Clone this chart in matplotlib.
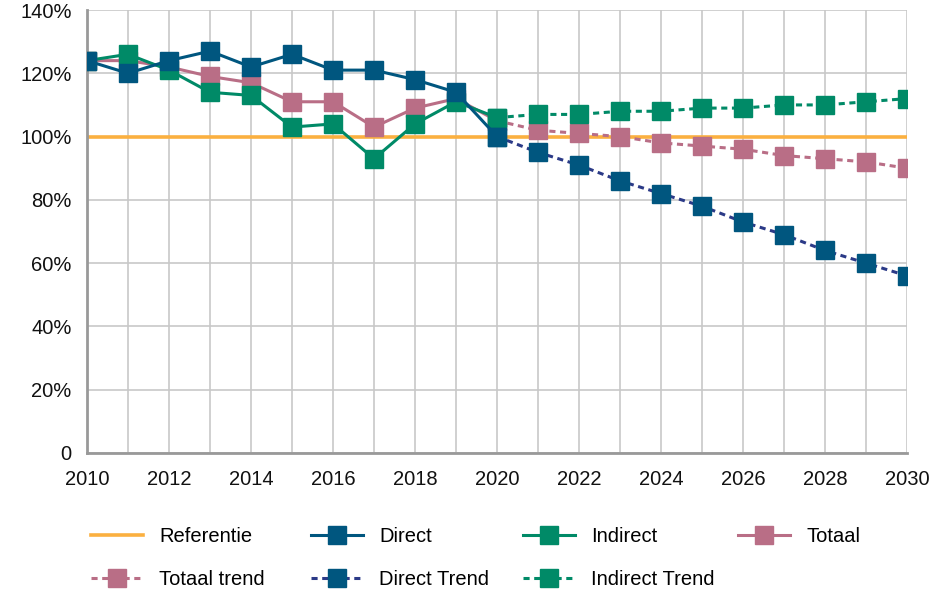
import matplotlib
matplotlib.use("Agg")
import matplotlib.pyplot as plt

plt.rcParams["font.family"] = ["Liberation Sans", "DejaVu Sans"]

years_hist = list(range(2010, 2021))
years_trend = list(range(2020, 2031))

direct = [124, 120, 124, 127, 122, 126, 121, 121, 118, 114, 100]
indirect = [124, 126, 121, 114, 113, 103, 104, 93, 104, 111, 106]
totaal = [124, 124, 122, 119, 117, 111, 111, 103, 109, 112, 105]

direct_trend = [100, 95, 91, 86, 82, 78, 73, 69, 64, 60, 56]
indirect_trend = [106, 107, 107, 108, 108, 109, 109, 110, 110, 111, 112]
totaal_trend = [105, 102, 101, 100, 98, 97, 96, 94, 93, 92, 90]

referentie = 100

C_REF = "#fbb040"
C_DIR = "#00567f"
C_DIR_TREND = "#2b3a87"
C_IND = "#008a67"
C_TOT = "#b96e86"

W, H = 951, 590
fig = plt.figure(figsize=(W / 100, H / 100), dpi=100)
ax = fig.add_axes([87 / W, 1 - 453 / H, 820 / W, 443 / H])

ms = 13.5
lw = 2.2
dash = (0, (2, 1.5))

ref, = ax.plot([2010, 2030], [referentie, referentie], color=C_REF, lw=2.6,
               label="Referentie", zorder=2)

tot, = ax.plot(years_hist, totaal, color=C_TOT, lw=lw, marker="s", ms=ms,
               label="Totaal", zorder=3)
tot_t, = ax.plot(years_trend, totaal_trend, color=C_TOT, lw=lw, ls=dash,
                 marker="s", ms=ms, label="Totaal trend", zorder=3)
ind, = ax.plot(years_hist, indirect, color=C_IND, lw=lw, marker="s", ms=ms,
               label="Indirect", zorder=4)
ind_t, = ax.plot(years_trend, indirect_trend, color=C_IND, lw=lw, ls=dash,
                 marker="s", ms=ms, label="Indirect Trend", zorder=4)
dir_t, = ax.plot(years_trend, direct_trend, color=C_DIR_TREND, lw=lw, ls=dash,
                 marker="s", ms=ms, mfc=C_DIR, mec=C_DIR, label="Direct Trend", zorder=5)
dirl, = ax.plot(years_hist, direct, color=C_DIR, lw=lw, marker="s", ms=ms,
                label="Direct", zorder=5)

ax.set_xlim(2010, 2030)
ax.set_ylim(0, 140)
ax.set_xticks(range(2010, 2031, 2))
ax.set_xticks(range(2010, 2031), minor=True)
ax.set_yticks(range(0, 141, 20))
ax.set_yticklabels(["0"] + [f"{v}%" for v in range(20, 141, 20)])
ax.grid(True, which="both", axis="x", color="#c8c8c8", lw=1.2)
ax.grid(True, which="major", axis="y", color="#c8c8c8", lw=1.2)
ax.set_axisbelow(True)
ax.tick_params(which="both", length=0, labelsize=14.5, colors="#111111")
ax.tick_params(axis="x", pad=12)
ax.tick_params(axis="y", pad=11)
for s in ("top", "right"):
    ax.spines[s].set_visible(False)
for s in ("left", "bottom"):
    ax.spines[s].set_color("#999999")
    ax.spines[s].set_linewidth(2)

# legend laid out as a fixed grid: one small legend per column
columns = [(91, [ref, tot_t]), (311, [dirl, dir_t]), (523, [ind, ind_t]), (738, [tot])]
for x0, hs in columns:
    fig.legend(hs, [h.get_label() for h in hs], loc="upper left",
               bbox_to_anchor=(x0 / W, 1 - 527 / H), frameon=False,
               fontsize=14.5, handlelength=2.6, handletextpad=0.8,
               labelspacing=1.2, borderpad=0, borderaxespad=0)

fig.savefig("out.png", dpi=100)
